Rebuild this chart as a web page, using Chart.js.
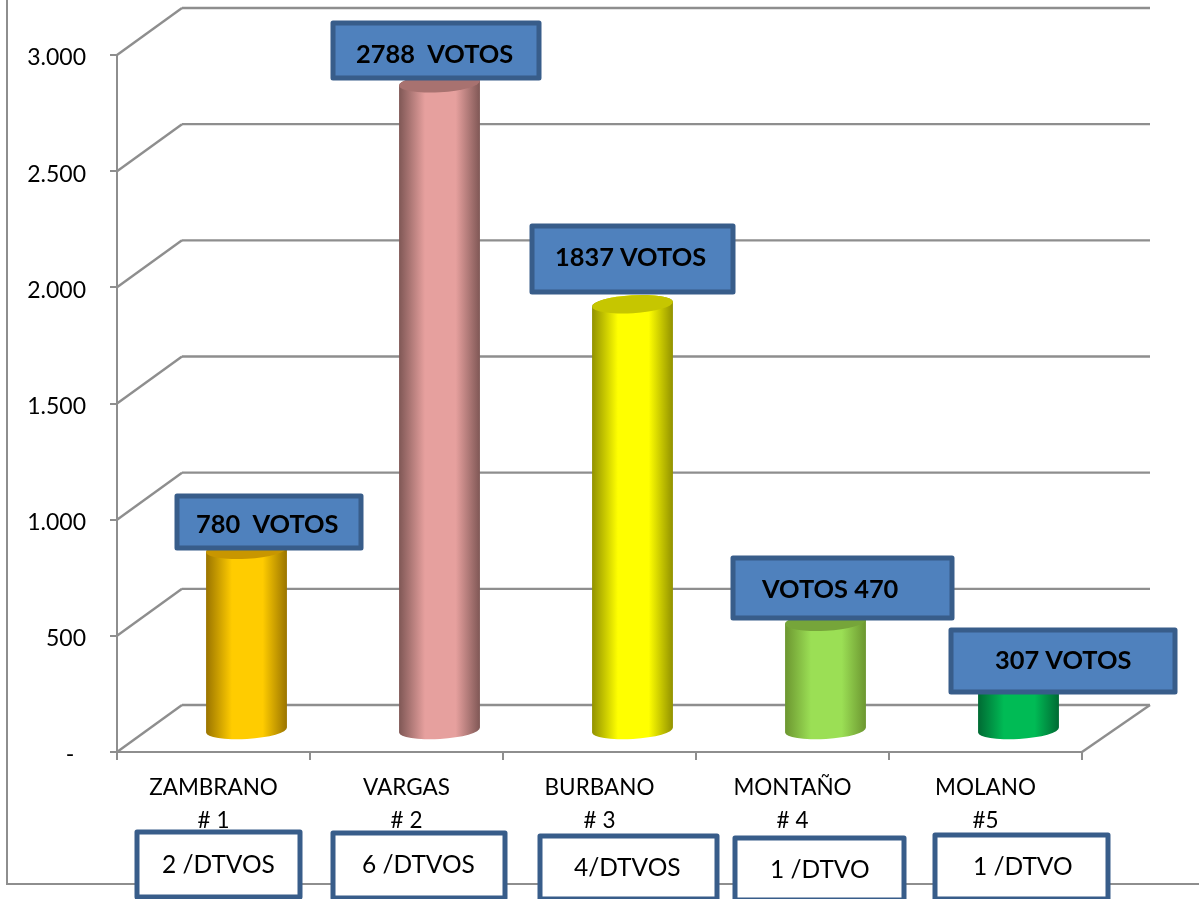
<!DOCTYPE html>
<html>
<head>
<meta charset="utf-8">
<title>Votos</title>
<script src="https://cdn.jsdelivr.net/npm/chart.js@4"></script>
<style>
  html, body { margin: 0; padding: 0; background: #fff; overflow: hidden; }
  canvas { display: block; }
</style>
</head>
<body>
<canvas id="votesChart" width="1199" height="899"></canvas>
<script>
const candidates = [['ZAMBRANO', '# 1'], ['VARGAS', '# 2'], ['BURBANO', '# 3'], ['MONTAÑO', '# 4'], ['MOLANO', '#5']];
const votes = [780, 2788, 1837, 470, 307];
const voteLabels = ['780  VOTOS', '2788  VOTOS', '1837 VOTOS', 'VOTOS 470', '307 VOTOS'];
const seatLabels = ['2 /DTVOS', '6 /DTVOS', '4/DTVOS', '1 /DTVO', '1 /DTVO'];

const barColors = ['#ffcc00', '#e6a09e', '#ffff00', '#9bdf55', '#00bb55'];
const barEdges = ['#9a7400', '#7f5755', '#919100', '#6c9630', '#006a33'];
const barTops = ['#c89600', '#a87270', '#c6c600', '#76a53a', '#008a40'];

// callout boxes: x, y, w, h, text x, text y
const voteBoxes = [
  [177, 496, 184, 52, 196, 525],
  [333, 23, 206, 55, 356, 55],
  [532, 226, 201, 66, 555, 258],
  [733, 558, 219, 60, 762, 590],
  [951, 630, 224, 62, 995, 661]
];
const seatBoxes = [
  [137, 832, 163, 65, 162, 865],
  [333, 833, 172, 65, 362, 865],
  [540, 836, 177, 63, 574, 868],
  [735, 838, 169, 62, 770, 870],
  [935, 835, 173, 64, 973, 867]
];

const GREY = '#8e8e8e';
const DEPTH_X = 65;
const DEPTH_Y = 47;
const BAR_SHIFT_X = 33;
const BAR_SHIFT_Y = 21;
const BACK_RIGHT = 1150;

function line(ctx, x1, y1, x2, y2) {
  ctx.beginPath();
  ctx.moveTo(x1, y1);
  ctx.lineTo(x2, y2);
  ctx.stroke();
}

function drawCylinder(ctx, bar, index) {
  const rx = bar.width / 2;
  const ry = 9;
  const rot = -0.06;
  const cx = bar.x + BAR_SHIFT_X;
  const topY = bar.y - BAR_SHIFT_Y;
  const botY = bar.base - BAR_SHIFT_Y;

  const grad = ctx.createLinearGradient(cx - rx, 0, cx + rx, 0);
  grad.addColorStop(0, barEdges[index]);
  grad.addColorStop(0.32, barColors[index]);
  grad.addColorStop(0.7, barColors[index]);
  grad.addColorStop(1, barEdges[index]);

  ctx.fillStyle = grad;
  ctx.beginPath();
  ctx.ellipse(cx, botY, rx, ry, rot, 0, Math.PI);
  ctx.ellipse(cx, topY, rx, ry, rot, Math.PI, 0);
  ctx.closePath();
  ctx.fill();

  ctx.fillStyle = barTops[index];
  ctx.beginPath();
  ctx.ellipse(cx, topY, rx, ry, rot, 0, Math.PI * 2);
  ctx.fill();
}

function drawBox(ctx, box, text, fill, font) {
  ctx.fillStyle = fill;
  ctx.strokeStyle = '#385d8a';
  ctx.lineWidth = 5;
  ctx.lineJoin = 'round';
  ctx.beginPath();
  ctx.rect(box[0], box[1], box[2], box[3]);
  ctx.fill();
  ctx.stroke();
  ctx.fillStyle = '#000';
  ctx.font = font;
  ctx.textAlign = 'left';
  ctx.textBaseline = 'middle';
  ctx.fillText(text, box[4], box[5]);
}

const cylinderPlugin = {
  id: 'cylinders',
  beforeDraw(chart) {
    // outer frame of the chart object
    const ctx = chart.ctx;
    ctx.save();
    ctx.strokeStyle = GREY;
    ctx.lineWidth = 2;
    ctx.beginPath();
    ctx.moveTo(7, 0);
    ctx.lineTo(7, 884);
    ctx.lineTo(1199, 884);
    ctx.stroke();
    ctx.restore();
  },
  beforeDatasetsDraw(chart) {
    // back wall and floor
    const ctx = chart.ctx;
    const y = chart.scales.y;
    const area = chart.chartArea;
    ctx.save();
    ctx.strokeStyle = GREY;
    ctx.lineWidth = 2.4;
    y.ticks.forEach(t => {
      const py = y.getPixelForValue(t.value);
      line(ctx, area.left, py, area.left + DEPTH_X, py - DEPTH_Y);
      line(ctx, area.left + DEPTH_X, py - DEPTH_Y, BACK_RIGHT, py - DEPTH_Y);
    });
    line(ctx, area.right, area.bottom, BACK_RIGHT, area.bottom - DEPTH_Y);
    ctx.restore();
  },
  beforeDatasetDraw(chart, args) {
    const ctx = chart.ctx;
    ctx.save();
    chart.getDatasetMeta(args.index).data.forEach((bar, i) => drawCylinder(ctx, bar, i));
    ctx.restore();
    return false;
  },
  afterDraw(chart) {
    const ctx = chart.ctx;
    ctx.save();
    voteBoxes.forEach((box, i) => drawBox(ctx, box, voteLabels[i], '#4f81bd', 'bold 25.4px Lato'));
    seatBoxes.forEach((box, i) => drawBox(ctx, box, seatLabels[i], '#fff', '24.5px Lato'));
    ctx.restore();
  }
};

new Chart(document.getElementById('votesChart'), {
  type: 'bar',
  data: {
    labels: candidates,
    datasets: [{
      data: votes,
      backgroundColor: barColors,
      barThickness: 81
    }]
  },
  plugins: [cylinderPlugin],
  options: {
    responsive: false,
    animation: false,
    layout: { padding: { top: 55, right: 117, left: 0, bottom: 0 } },
    plugins: {
      legend: { display: false },
      title: { display: false },
      tooltip: { enabled: false }
    },
    scales: {
      x: {
        afterFit: s => { s.height = 147; },
        border: { color: GREY, width: 2 },
        grid: { drawOnChartArea: false, color: GREY, lineWidth: 2, tickLength: 8 },
        ticks: {
          color: '#000',
          padding: 12,
          maxRotation: 0,
          font: { family: 'Lato', size: 22.5, lineHeight: 1.44 }
        }
      },
      y: {
        min: 0,
        max: 3000,
        afterFit: s => { s.width = 117; },
        border: { color: GREY, width: 2 },
        grid: { drawOnChartArea: false, color: GREY, lineWidth: 2, tickLength: 7 },
        ticks: {
          stepSize: 500,
          color: '#000',
          padding: 24,
          font: { family: 'Lato', size: 23, lineHeight: '6px' },
          // empty first line pushes the number a couple of px below the tick
          callback: v => ['', v === 0 ? '-  ' : v.toLocaleString('de-DE')]
        }
      }
    }
  }
});
</script>
</body>
</html>
